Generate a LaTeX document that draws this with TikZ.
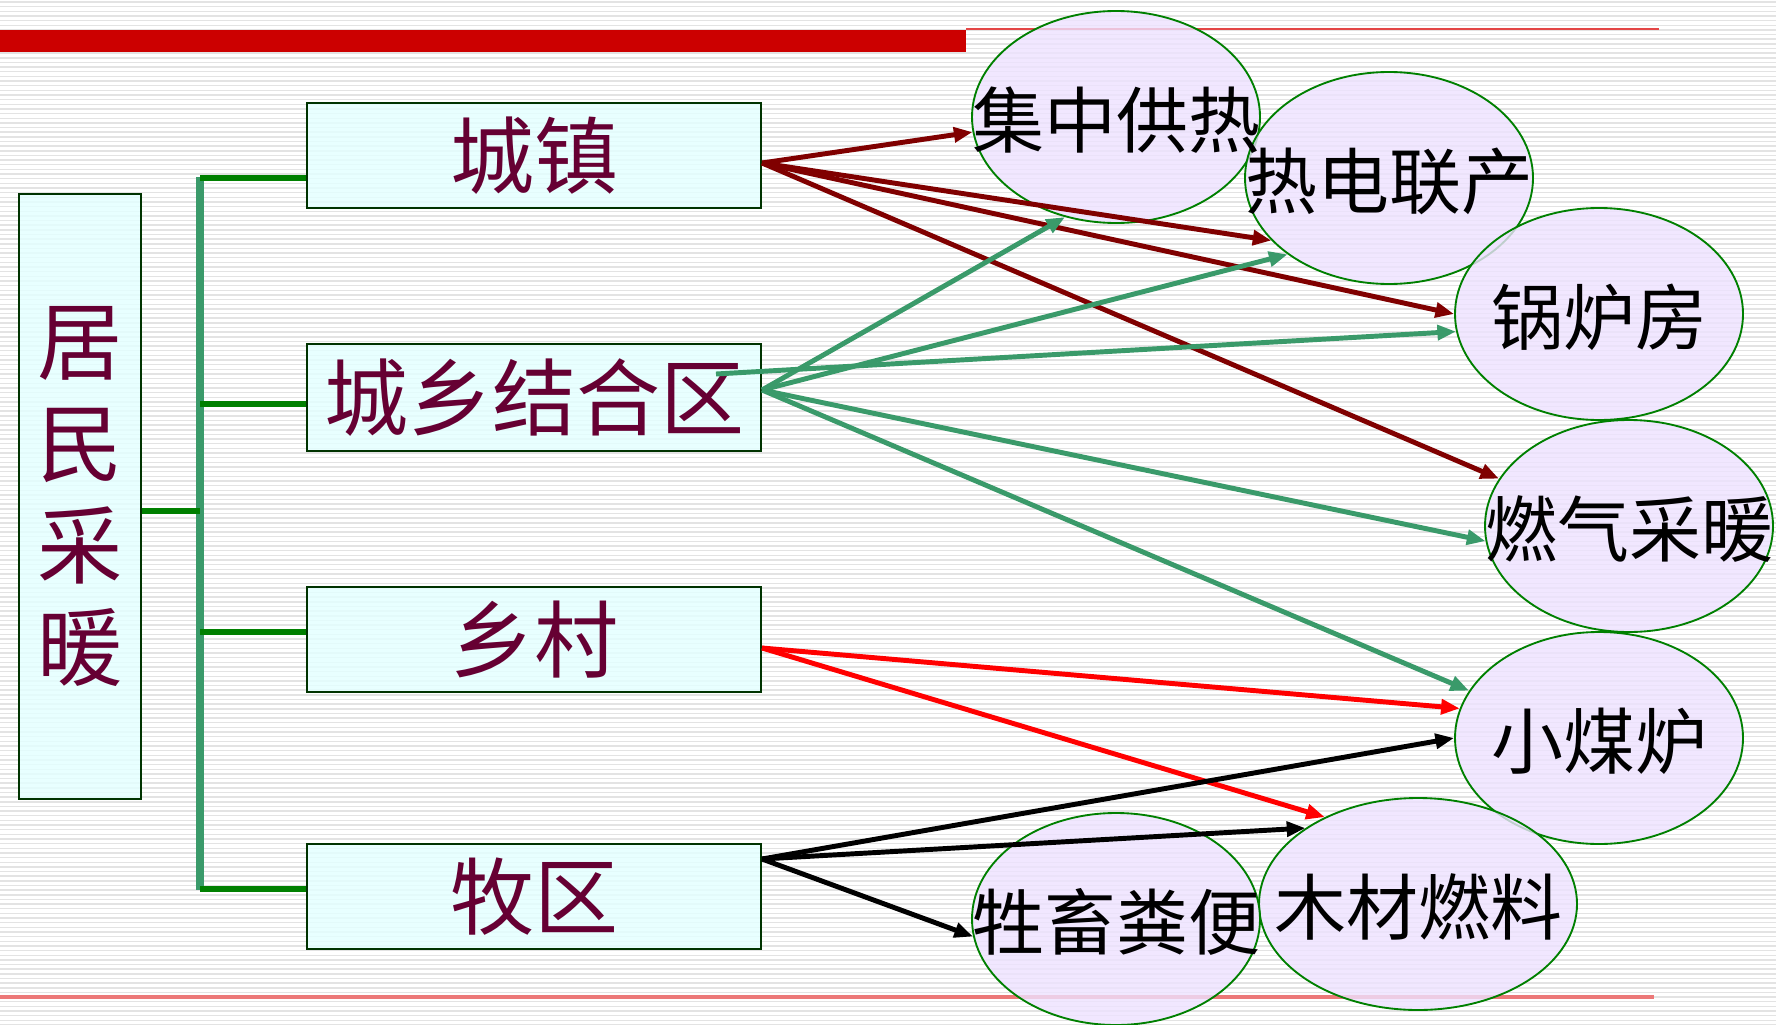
\documentclass[tikz,border=0pt]{standalone}
\usepackage{fontspec}
\newfontfamily\cjk{Noto Sans CJK SC}
\usetikzlibrary{shapes.geometric,arrows.meta,calc}
\definecolor{maroonT}{RGB}{102,0,51}
\definecolor{boxline}{RGB}{0,51,0}
\definecolor{boxfill}{RGB}{228,255,255}
\definecolor{ellfill}{RGB}{238,226,255}
\definecolor{ellline}{RGB}{0,128,0}
\definecolor{darkred}{RGB}{128,0,0}
\definecolor{seagreen}{RGB}{58,154,106}
\definecolor{branchgreen}{RGB}{0,128,0}
\definecolor{barred}{RGB}{204,0,0}
\definecolor{linered}{RGB}{228,70,70}
\definecolor{linepink}{RGB}{236,120,120}
\begin{document}
\begin{tikzpicture}[x=0.75pt,y=-0.75pt,
  stripe/.style={draw=gray!22,line width=1.1pt},
  box/.style={rectangle,draw=boxline,line width=1.5pt,fill=boxfill,fill opacity=0.85,text opacity=1,
    minimum width=340.5pt,minimum height=78.75pt,inner sep=0pt,text=maroonT,
    font=\cjk\fontsize{63}{70}\selectfont},
  ell/.style={ellipse,draw=ellline,line width=1.4pt,fill=ellfill,fill opacity=0.8,
    minimum width=216pt,minimum height=159pt,inner sep=0pt},
  etext/.style={inner sep=0pt,text=black,font=\cjk\fontsize{54}{60}\selectfont},
  trunk/.style={draw=seagreen,line width=5.4pt},
  branch/.style={draw=branchgreen,line width=4.4pt},
  arr/.style={line width=3.7pt,-{Triangle[length=14pt,width=11pt]}},
]
\useasboundingbox (0,0) rectangle (1776,1024);
\fill[white] (0,0) rectangle (1776,1024);
\foreach \k in {0,...,220} {\draw[stripe] (0,{\k*4.65+2}) -- (1776,{\k*4.65+2});}

% top bar and lines
\fill[barred] (0,30) rectangle (966,52);
\draw[linered,line width=2pt] (966,29) -- (1659,29);
\draw[linepink,line width=2.4pt] (0,997) -- (1654,997);

% ellipses
\node[ell] (e1) at (1116,117) {};
\node[ell] (e2) at (1389,178) {};
\node[ell] (e3) at (1599,314) {};
\node[ell] (e4) at (1629,526) {};
\node[ell] (e5) at (1599,738) {};
\node[ell,minimum width=238.5pt] (e6) at (1418,904) {};
\node[ell] (e7) at (1116,919) {};

\node[etext] (t1) at ($(e1.center)+(0,3)$) {集中供热};
\node[etext] (t2) at ($(e2.center)+(0,3)$) {热电联产};
\node[etext] (t3) at ($(e3.center)+(0,3)$) {锅炉房};
\node[etext] (t4) at ($(e4.center)+(0,3)$) {燃气采暖};
\node[etext] (t5) at ($(e5.center)+(0,3)$) {小煤炉};
\node[etext] (t6) at ($(e6.center)+(0,3)$) {木材燃料};
\node[etext] (t7) at ($(e7.center)+(0,3)$) {牲畜粪便};

% root and tree
\node[box,minimum width=91.5pt,minimum height=453.75pt,align=center,
  font=\cjk\fontsize{64}{76.5}\selectfont] (root) at (80,496.5) {居\\民\\采\\暖};

\coordinate (j1) at (200,178);
\coordinate (j2) at (200,404);
\coordinate (j3) at (200,632);
\coordinate (j4) at (200,889);
\coordinate (j0) at (200,511);

\node[box] (b1) at (534,155.5) {城镇};
\node[box,minimum height=80.25pt] (b2) at (534,397.5) {城乡结合区};
\node[box] (b3) at (534,639.5) {乡村};
\node[box] (b4) at (534,896.5) {牧区};

\draw[trunk] ($(j1)+(0,-1)$) -- ($(j4)+(0,1)$);
\draw[branch] (root.east |- j0) -- (j0);
\draw[branch] (j1) -- (b1.west |- j1);
\draw[branch] (j2) -- (b2.west |- j2);
\draw[branch] (j3) -- (b3.west |- j3);
\draw[branch] (j4) -- (b4.west |- j4);

% arrow start points
\coordinate (s1) at ($(b1.east)+(0,7.5)$);
\coordinate (s2) at ($(b2.east)+(0,-7.5)$);
\coordinate (s2b) at (716,374);
\coordinate (s3) at ($(b3.east)+(0,8.5)$);
\coordinate (s4) at ($(b4.east)+(0,-37.5)$);

% 城镇
\draw[arr,darkred] (s1) -- (e1.186);
\draw[arr,darkred] (s1) -- (e2.208);
\draw[arr,darkred] (s1) -- (e3.west);
\draw[arr,darkred] (s1) -- (e4.160);
% 城乡结合区
\draw[arr,seagreen] (s2) -- (e1.243);
\draw[arr,seagreen] (s2) -- (e2.217);
\draw[arr,seagreen] (s2b) -- (e3.187);
\draw[arr,seagreen] (s2) -- (e4.186);
\draw[arr,seagreen] (s2) -- (e5.160);
% 乡村
\draw[arr,red] (s3) -- (e5.168);
\draw[arr,red] (s3) -- (e6.137);
% 牧区
\draw[arr,black] (s4) -- (e5.west);
\draw[arr,black] (s4) -- (e6.146);
\draw[arr,black] (s4) -- (e7.187);
\end{tikzpicture}
\end{document}
